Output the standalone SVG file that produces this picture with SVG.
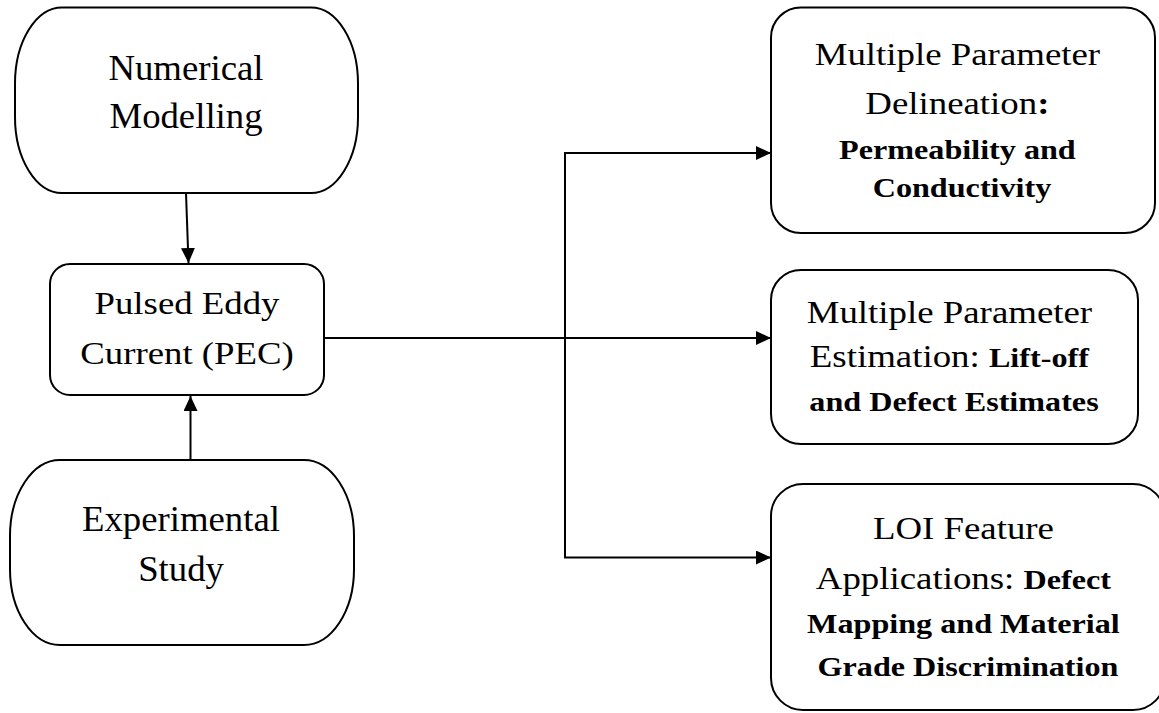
<svg xmlns="http://www.w3.org/2000/svg" width="1159" height="713" viewBox="0 0 1159 713">
  <style>
    .box { fill: #ffffff; stroke: #000000; stroke-width: 2; }
    .conn { fill: none; stroke: #000000; stroke-width: 2; }
    text { font-family: "Liberation Serif", "Times New Roman", serif; fill: #000000; text-anchor: middle; }
    .l { font-size: 35px; }
    .p { font-size: 32px; }
    .r { font-size: 31.5px; }
    .b { font-size: 27.5px; font-weight: bold; }
  </style>
  <defs>
    <marker id="arrow" viewBox="0 0 15 14" refX="15" refY="7" markerWidth="15" markerHeight="14" markerUnits="userSpaceOnUse" orient="auto-start-reverse">
      <path d="M0,0 L15,7 L0,14 Z" fill="#000000"/>
    </marker>
  </defs>
  <rect width="1159" height="713" fill="#ffffff"/>

  <g id="connectors">
    <path class="conn" d="M186,193 L188.5,263" marker-end="url(#arrow)"/>
    <path class="conn" d="M190.5,460 L190.5,396" marker-end="url(#arrow)"/>
    <path class="conn" d="M324,338 H771" marker-end="url(#arrow)"/>
    <path class="conn" d="M771,153 H565 V557.5 H771" marker-start="url(#arrow)" marker-end="url(#arrow)"/>
  </g>

  <g id="numerical-modelling">
    <rect class="box" x="15" y="7.5" width="343" height="185.5" rx="47" ry="76"/>
    <text class="l" transform="translate(186,0) scale(1.05,1)"><tspan x="0" y="80">Numerical</tspan><tspan x="0" y="128">Modelling</tspan></text>
  </g>

  <g id="pec">
    <rect class="box" x="50" y="264" width="274" height="131" rx="20" ry="20"/>
    <text class="p" transform="translate(187,0) scale(1.15,1)"><tspan x="0" y="314">Pulsed Eddy</tspan><tspan x="0" y="364">Current (PEC)</tspan></text>
  </g>

  <g id="experimental-study">
    <rect class="box" x="10" y="460" width="344" height="185" rx="50" ry="76"/>
    <text class="l" transform="translate(181,0) scale(1.05,1)"><tspan x="0" y="531.5">Experimental</tspan><tspan x="0" y="581.5">Study</tspan></text>
  </g>

  <g id="delineation">
    <rect class="box" x="771" y="7.5" width="384" height="225.5" rx="30" ry="30"/>
    <text class="r" transform="translate(962,0) scale(1.17,1)">
      <tspan x="0" y="65">Multiple Parameter</tspan>
      <tspan x="0" y="114">Delineation<tspan font-weight="bold">:</tspan></tspan>
      <tspan class="b" x="0" y="159">Permeability and</tspan>
      <tspan class="b" x="0" y="197">Conductivity</tspan>
    </text>
  </g>

  <g id="estimation">
    <rect class="box" x="771" y="270" width="367" height="174" rx="30" ry="30"/>
    <text class="r" transform="translate(954,0) scale(1.17,1)">
      <tspan x="0" y="323">Multiple Parameter</tspan>
      <tspan x="0" y="367">Estimation: <tspan class="b">Lift-off</tspan></tspan>
      <tspan class="b" x="0" y="411.5">and Defect Estimates</tspan>
    </text>
  </g>

  <g id="loi-feature">
    <rect class="box" x="771" y="484" width="394" height="226" rx="32" ry="32"/>
    <text class="r" transform="translate(968,0) scale(1.17,1)">
      <tspan x="0" y="539">LOI Feature</tspan>
      <tspan x="0" y="589">Applications: <tspan class="b">Defect</tspan></tspan>
      <tspan class="b" x="0" y="633">Mapping and Material</tspan>
      <tspan class="b" x="0" y="676">Grade Discrimination</tspan>
    </text>
  </g>
</svg>
